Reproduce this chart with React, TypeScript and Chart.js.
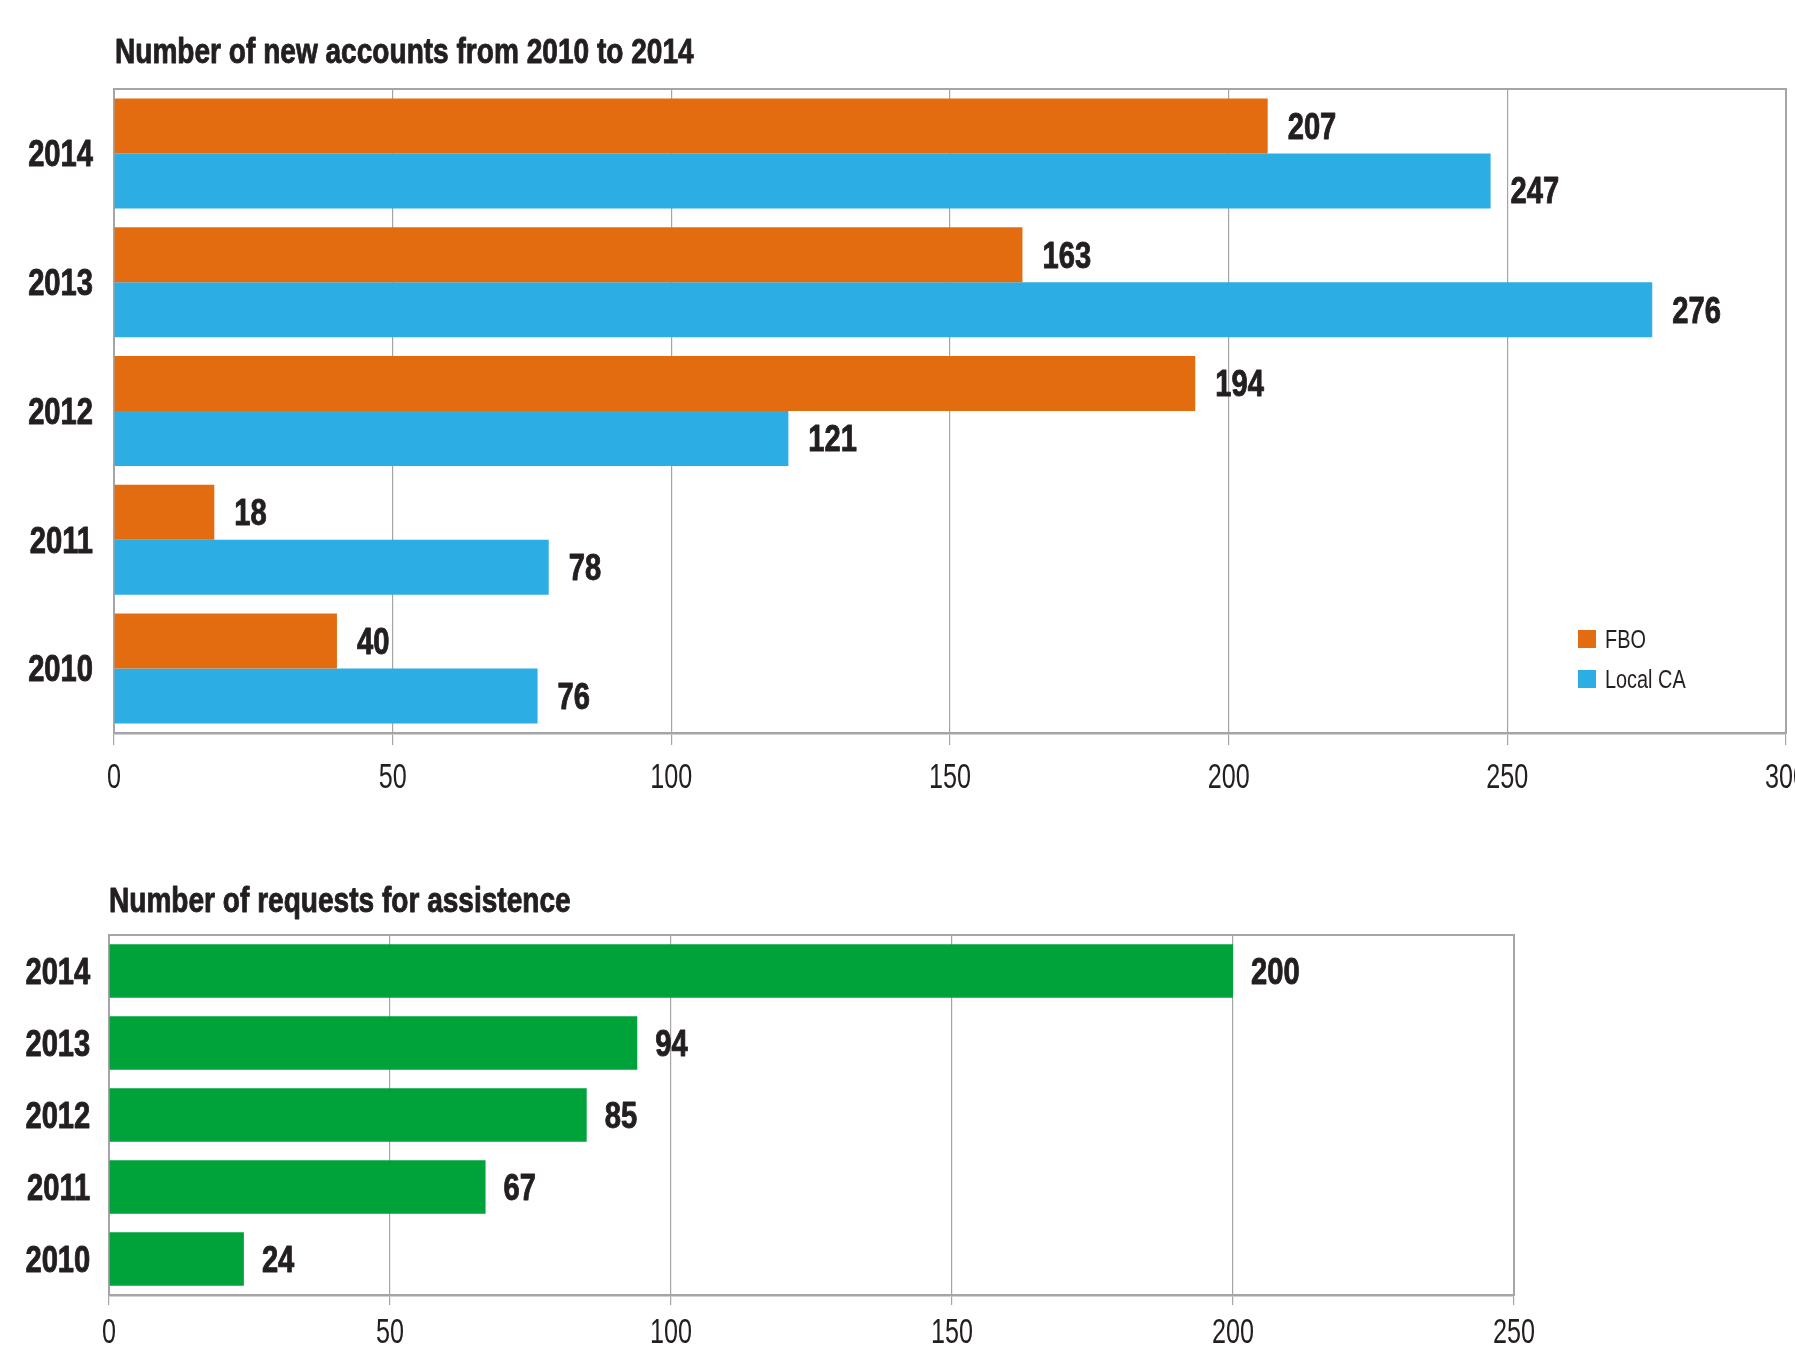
import React, { useEffect, useRef } from 'react';
import { Chart, registerables } from 'chart.js';

Chart.register(...registerables);

// ---- data ----
const years = ['2014', '2013', '2012', '2011', '2010'];
const seriesNames = ['FBO', 'Local CA'];
const fboValues = [207, 163, 194, 18, 40];
const localCaValues = [247, 276, 121, 78, 76];
const requestValues = [200, 94, 85, 67, 24];
const accountsTitle = 'Number of new accounts from 2010 to 2014';
const requestsTitle = 'Number of requests for assistence';
const accountsAxisMax = 300;
const requestsAxisMax = 250;
const tickStep = 50;

// ---- styles ----
const FONT = "'Liberation Sans', Arial, sans-serif";
const INK = '#231F20';
const GRID = '#A5A5A5';
const ORANGE = '#E36C10';
const BLUE = '#2CADE3';
const GREEN = '#00A33A';
const BOLD_SX = 0.81; // horizontal squeeze to mimic a condensed face
const REG_SX = 0.72;

function drawText(ctx: CanvasRenderingContext2D, text: string, x: number, y: number, size: number, bold: boolean, align: CanvasTextAlign, sx: number) {
  ctx.save();
  ctx.translate(x, y);
  ctx.scale(sx, 1);
  ctx.font = `${bold ? 'bold ' : ''}${size}px ${FONT}`;
  ctx.textAlign = align;
  ctx.textBaseline = 'alphabetic';
  ctx.fillStyle = INK;
  ctx.fillText(text, 0, 0);
  if (bold) {
    ctx.strokeStyle = INK;
    ctx.lineWidth = 0.9;
    ctx.lineJoin = 'round';
    ctx.strokeText(text, 0, 0);
  }
  ctx.restore();
}

const plotFrame = {
  id: 'plotFrame',
  beforeDatasetsDraw(chart: any, _a: any, opts: any) {
    const { ctx, chartArea: a } = chart;
    ctx.save();
    ctx.strokeStyle = opts.color;
    ctx.lineWidth = opts.width;
    ctx.strokeRect(a.left, a.top, a.right - a.left, a.bottom - a.top);
    ctx.restore();
  },
};

const valueLabels = {
  id: 'valueLabels',
  afterDatasetsDraw(chart: any, _a: any, opts: any) {
    const { ctx } = chart;
    const shifts = opts.shifts || {};
    chart.data.datasets.forEach((ds: any, i: number) => {
      const meta = chart.getDatasetMeta(i);
      meta.data.forEach((el: any, j: number) => {
        const dy = shifts[`${i}-${j}`] || 0;
        drawText(ctx, String(ds.data[j]), el.x + opts.gap, el.y + dy + opts.size * 0.358, opts.size, true, 'left', BOLD_SX);
      });
    });
  },
};

const axisText = {
  id: 'axisText',
  afterDraw(chart: any, _a: any, o: any) {
    const { ctx, chartArea: a } = chart;
    drawText(ctx, o.title, a.left + o.titleDx, a.top - o.titleRise, o.titleSize, true, 'left', BOLD_SX * 0.99);
    const xs = chart.scales.x;
    xs.ticks.forEach((t: any, i: number) => {
      const label = t.label !== undefined ? String(t.label) : String(t.value);
      drawText(ctx, label, xs.getPixelForTick(i), a.bottom + o.xDrop, o.xSize, false, 'center', REG_SX);
    });
    const ys = chart.scales.y;
    ys.ticks.forEach((t: any, i: number) => {
      const label = t.label !== undefined ? String(t.label) : String(chart.data.labels[i]);
      drawText(ctx, label, a.left - o.yPad, ys.getPixelForTick(i) + o.ySize * 0.358, o.ySize, true, 'right', BOLD_SX);
    });
  },
};

const insideLegend = {
  id: 'insideLegend',
  afterDraw(chart: any, _a: any, opts: any) {
    if (!opts || !opts.show) return;
    const { ctx, chartArea: a } = chart;
    chart.data.datasets.forEach((ds: any, i: number) => {
      const x = a.right - opts.right;
      const y = a.bottom - opts.bottom + i * opts.rowGap;
      ctx.save();
      ctx.fillStyle = ds.backgroundColor;
      ctx.fillRect(x, y, opts.box, opts.box);
      ctx.restore();
      drawText(ctx, ds.label, x + opts.box + opts.textGap, y + opts.box / 2 + opts.size * 0.358, opts.size, false, 'left', 0.75);
    });
  },
};

function xAxis(max: number, height: number, tickLength: number) {
  return {
    type: 'linear',
    min: 0,
    max,
    afterFit: (s: any) => { s.height = height; },
    ticks: { stepSize: tickStep, display: false },
    grid: { color: GRID, lineWidth: 1.2, tickLength, drawTicks: true },
    border: { display: true, color: GRID, width: 2.5 },
  };
}

function yAxis(width: number) {
  return {
    type: 'category',
    afterFit: (s: any) => { s.width = width; },
    ticks: { display: false },
    grid: { display: false, drawTicks: false },
    border: { display: true, color: GRID, width: 2 },
  };
}

export default function App() {
  const topRef = useRef<HTMLCanvasElement>(null);
  const botRef = useRef<HTMLCanvasElement>(null);

  useEffect(() => {
    const c1 = new Chart(topRef.current as HTMLCanvasElement, {
      type: 'bar',
      data: {
        labels: years,
        datasets: [
          { label: seriesNames[0], data: fboValues, backgroundColor: ORANGE, borderWidth: 0 },
          { label: seriesNames[1], data: localCaValues, backgroundColor: BLUE, borderWidth: 0 },
        ],
      },
      options: {
        indexAxis: 'y',
        responsive: false,
        animation: false,
        devicePixelRatio: 1,
        categoryPercentage: 0.854,
        barPercentage: 1,
        layout: { padding: { top: 89, left: 0, right: 9, bottom: 17 } },
        scales: {
          x: xAxis(accountsAxisMax, 70, 12),
          y: yAxis(114),
        },
        plugins: {
          legend: { display: false },
          tooltip: { enabled: false },
          title: { display: false },
          plotFrame: { color: GRID, width: 2 },
          valueLabels: { size: 36, gap: 20, shifts: { '1-0': 9 } },
          axisText: { title: accountsTitle, titleDx: 1, titleRise: 26, titleSize: 35, xDrop: 55, xSize: 35, yPad: 21, ySize: 36 },
          insideLegend: { show: true, right: 208, bottom: 103, rowGap: 40, box: 18, textGap: 9, size: 26.5 },
        } as any,
      } as any,
      plugins: [plotFrame, valueLabels, axisText, insideLegend] as any,
    });

    const c2 = new Chart(botRef.current as HTMLCanvasElement, {
      type: 'bar',
      data: {
        labels: years,
        datasets: [
          { label: 'Requests', data: requestValues, backgroundColor: GREEN, borderWidth: 0 },
        ],
      },
      options: {
        indexAxis: 'y',
        responsive: false,
        animation: false,
        devicePixelRatio: 1,
        categoryPercentage: 1,
        barPercentage: 0.741,
        layout: { padding: { top: 115, left: 0, right: 281, bottom: 4 } },
        scales: {
          x: xAxis(requestsAxisMax, 55, 10),
          y: yAxis(109),
        },
        plugins: {
          legend: { display: false },
          tooltip: { enabled: false },
          title: { display: false },
          plotFrame: { color: GRID, width: 2 },
          valueLabels: { size: 36, gap: 18 },
          axisText: { title: requestsTitle, titleDx: 0, titleRise: 23.5, titleSize: 35, xDrop: 47.5, xSize: 35, yPad: 18.7, ySize: 36 },
          insideLegend: { show: false },
        } as any,
      } as any,
      plugins: [plotFrame, valueLabels, axisText, insideLegend] as any,
    });

    return () => {
      c1.destroy();
      c2.destroy();
    };
  }, []);

  return (
    <div style={{ position: 'absolute', left: 0, top: 0, width: 1795, height: 1354, overflow: 'hidden', background: '#ffffff' }}>
      <canvas ref={topRef} width={1795} height={820} style={{ position: 'absolute', left: 0, top: 0, width: 1795, height: 820 }} />
      <canvas ref={botRef} width={1795} height={534} style={{ position: 'absolute', left: 0, top: 820, width: 1795, height: 534 }} />
    </div>
  );
}
